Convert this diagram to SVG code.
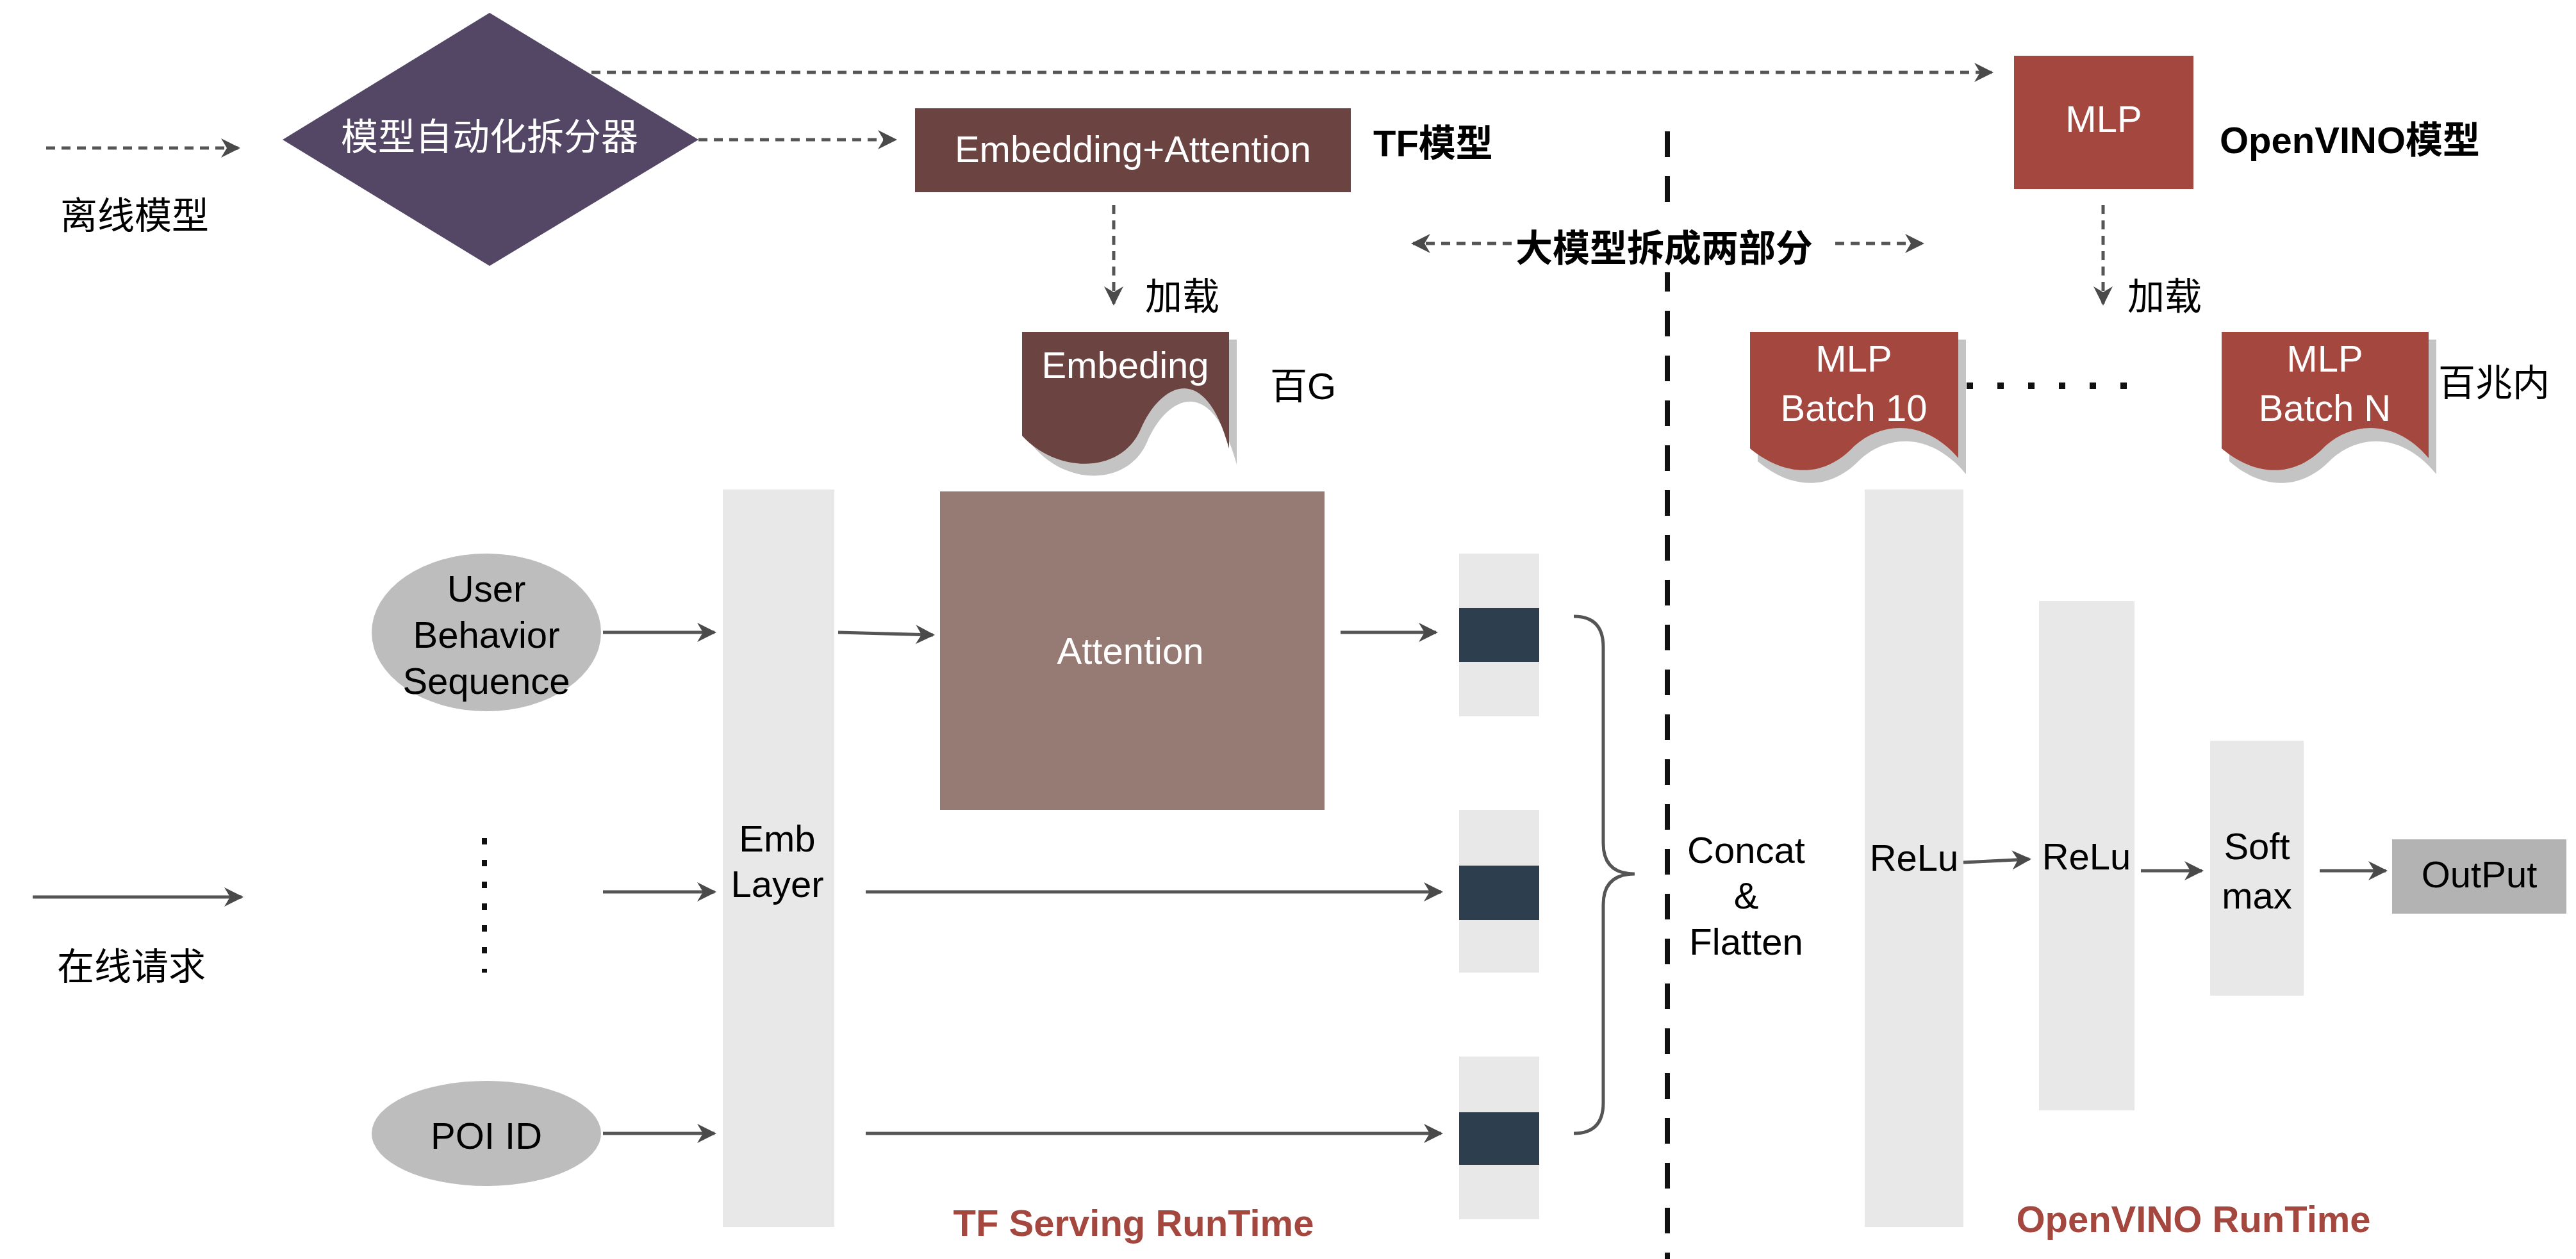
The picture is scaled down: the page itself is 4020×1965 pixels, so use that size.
<svg xmlns="http://www.w3.org/2000/svg" width="4020" height="1965" viewBox="0 0 4020 1965">
<style>
text{font-family:"Liberation Sans","Noto Sans CJK SC",sans-serif;font-size:58px;text-anchor:middle;dominant-baseline:central}
.w{fill:#fff}.b{font-weight:bold}.l{text-anchor:start}
.d{stroke:#555;stroke-width:5;stroke-dasharray:14 10;fill:none}
.s{stroke:#555;stroke-width:5;fill:none}
.bar{fill:#e8e8e8}.dk{fill:#2d3e4e}
</style>
<defs>
<marker id="a" viewBox="0 0 10 10" refX="9" refY="5" markerWidth="30" markerHeight="30" orient="auto-start-reverse" markerUnits="userSpaceOnUse"><path d="M0,0 L10,5 L0,10 L3,5 Z" fill="#4a4a4a"/></marker>
</defs>
<g id="connectors">
<path class="d" d="M72,231 H372" marker-end="url(#a)"/>
<path class="d" d="M1090,218 H1397" marker-end="url(#a)"/>
<path class="d" d="M923,113 H3108" marker-end="url(#a)"/>
<path class="d" d="M1738,320 V474" marker-end="url(#a)"/>
<path class="d" d="M3282,320 V474" marker-end="url(#a)"/>
<path class="d" d="M2359,380 H2205" marker-end="url(#a)"/>
<path class="d" d="M2864,380 H3000" marker-end="url(#a)"/>
<path d="M2602,205 V1965" stroke="#111" stroke-width="8" stroke-dasharray="40 30" fill="none"/>
<path class="s" d="M51,1400 H377" marker-end="url(#a)"/>
<path class="s" d="M941,987 H1115" marker-end="url(#a)"/>
<path class="s" d="M941,1392 H1115" marker-end="url(#a)"/>
<path class="s" d="M941,1769 H1115" marker-end="url(#a)"/>
<path class="s" d="M1308,987 L1456,991" marker-end="url(#a)"/>
<path class="s" d="M2092,987 H2241" marker-end="url(#a)"/>
<path class="s" d="M1351,1392 H2249" marker-end="url(#a)"/>
<path class="s" d="M1351,1769 H2249" marker-end="url(#a)"/>
<path class="s" d="M3064,1346 L3167,1341" marker-end="url(#a)"/>
<path class="s" d="M3341,1359 H3436" marker-end="url(#a)"/>
<path class="s" d="M3620,1359 H3723" marker-end="url(#a)"/>
<path class="s" d="M2456,962 Q2502,962 2502,1010 V1316 Q2502,1364 2551,1364 Q2502,1364 2502,1412 V1721 Q2502,1769 2456,1769"/>
<path d="M756,1308 V1518" stroke="#111" stroke-width="8" stroke-dasharray="10 24" fill="none"/>
<path d="M3069,602 H3351" stroke="#111" stroke-width="10" stroke-dasharray="10 38" fill="none"/>
</g>
<text x="210" y="336">离线模型</text>
<text x="205" y="1508">在线请求</text>
<g id="splitter"><polygon points="764,20 1090,218 764,415 441,218" fill="#544765"/><text class="w" x="764" y="213">模型自动化拆分器</text></g>
<g id="tfmodel"><rect x="1428" y="169" width="680" height="131" fill="#6b4340"/><text class="w" x="1768" y="232">Embedding+Attention</text><text class="b l" x="2143" y="223">TF模型</text></g>
<text x="1787" y="462" class="l">加载</text>
<text x="3320" y="462" class="l">加载</text>
<g id="split"><rect x="2365" y="345" width="490" height="80" fill="#fff"/><text class="b" x="2597" y="387">大模型拆成两部分</text></g>
<g id="mlp"><rect x="3143" y="87" width="280" height="208" fill="#a3473f"/><text class="w" x="3283" y="185">MLP</text><text class="b l" x="3464" y="218">OpenVINO模型</text></g>
<g id="embeding">
<path d="M1607,530 H1930 V725 C1890,580 1820,620 1790,690 C1760,760 1660,760 1607,690 Z" fill="#c4c4c4"/>
<path d="M1595,518 H1918 V700 C1880,560 1810,600 1780,670 C1750,740 1650,740 1595,680 Z" fill="#6b4340"/>
<text class="w" x="1756" y="569">Embeding</text><text x="1982" y="602" class="l">百G</text></g>
<g id="mlp10">
<path d="M2743,530 H3068 V740 C3010,670 2940,680 2900,720 C2850,770 2790,760 2743,720 Z" fill="#c4c4c4"/>
<path d="M2731,518 H3056 V715 C3000,650 2930,660 2890,700 C2840,750 2780,740 2731,700 Z" fill="#a3473f"/>
<text class="w" x="2893" y="559">MLP</text><text class="w" x="2893" y="636">Batch 10</text></g>
<g id="mlpN">
<path d="M3479,530 H3802 V740 C3745,670 3675,680 3635,720 C3585,770 3525,760 3479,720 Z" fill="#c4c4c4"/>
<path d="M3467,518 H3790 V715 C3735,650 3665,660 3625,700 C3575,750 3515,740 3467,700 Z" fill="#a3473f"/>
<text class="w" x="3628" y="559">MLP</text><text class="w" x="3628" y="636">Batch N</text><text x="3805" y="597" class="l">百兆内</text></g>
<g id="ubs"><ellipse cx="759" cy="987" rx="179" ry="123" fill="#bdbdbd"/><text x="759" y="918">User</text><text x="759" y="990">Behavior</text><text x="759" y="1062">Sequence</text></g>
<g id="poi"><ellipse cx="759" cy="1769" rx="179" ry="82" fill="#bdbdbd"/><text x="759" y="1772">POI ID</text></g>
<g id="emb"><rect class="bar" x="1128" y="764" width="174" height="1151"/><text x="1213" y="1308">Emb</text><text x="1213" y="1379">Layer</text></g>
<g id="attention"><rect x="1467" y="767" width="600" height="497" fill="#967a74"/><text class="w" x="1764" y="1015">Attention</text></g>
<g id="v1"><rect class="bar" x="2277" y="864" width="125" height="254"/><rect class="dk" x="2277" y="949" width="125" height="84"/></g>
<g id="v2"><rect class="bar" x="2277" y="1264" width="125" height="254"/><rect class="dk" x="2277" y="1351" width="125" height="85"/></g>
<g id="v3"><rect class="bar" x="2277" y="1649" width="125" height="254"/><rect class="dk" x="2277" y="1736" width="125" height="82"/></g>
<g id="concat"><text x="2725" y="1326">Concat</text><text x="2725" y="1397">&amp;</text><text x="2725" y="1469">Flatten</text></g>
<g id="relu1"><rect class="bar" x="2910" y="764" width="154" height="1151"/><text x="2987" y="1338">ReLu</text></g>
<g id="relu2"><rect class="bar" x="3182" y="938" width="149" height="795"/><text x="3256" y="1336">ReLu</text></g>
<g id="softmax"><rect class="bar" x="3449" y="1156" width="146" height="398"/><text x="3522" y="1320">Soft</text><text x="3522" y="1397">max</text></g>
<g id="output"><rect x="3733" y="1310" width="272" height="116" fill="#b3b3b3"/><text x="3869" y="1364">OutPut</text></g>
<text class="b" x="1769" y="1908" fill="#a3473f">TF Serving RunTime</text>
<text class="b" x="3423" y="1902" fill="#a3473f">OpenVINO RunTime</text>
</svg>
